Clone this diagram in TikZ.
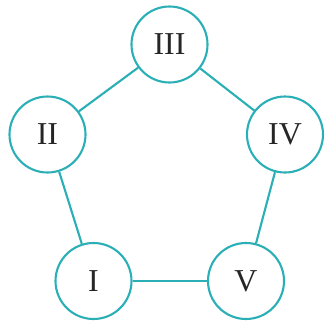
\documentclass[tikz,border=0pt]{standalone}
\usepackage{fontspec}
\setmainfont{Liberation Serif}
\definecolor{ringteal}{HTML}{2AAFB6}
\definecolor{numgray}{HTML}{262626}
\begin{document}
\begin{tikzpicture}[x=1bp,y=-1bp,
  ring/.style={circle,draw=ringteal,line width=2.1bp,minimum size=76bp,inner sep=0pt,
    text=numgray,font=\fontsize{32}{32}\selectfont},
  link/.style={draw=ringteal,line width=2.1bp}]
  \useasboundingbox (0,0) rectangle (325,321);
  \node[ring] (n3) at (169.5,44.5) {III};
  \node[ring] (n2) at (47.5,134.5) {II};
  \node[ring] (n4) at (285,134.5) {IV};
  \node[ring] (n1) at (93.5,281) {I};
  \node[ring] (n5) at (246,281) {V};
  \draw[link] (n3) -- (n2);
  \draw[link] (n3) -- (n4);
  \draw[link] (n2) -- (n1);
  \draw[link] (n4) -- (n5);
  \draw[link] (n1) -- (n5);
\end{tikzpicture}
\end{document}
